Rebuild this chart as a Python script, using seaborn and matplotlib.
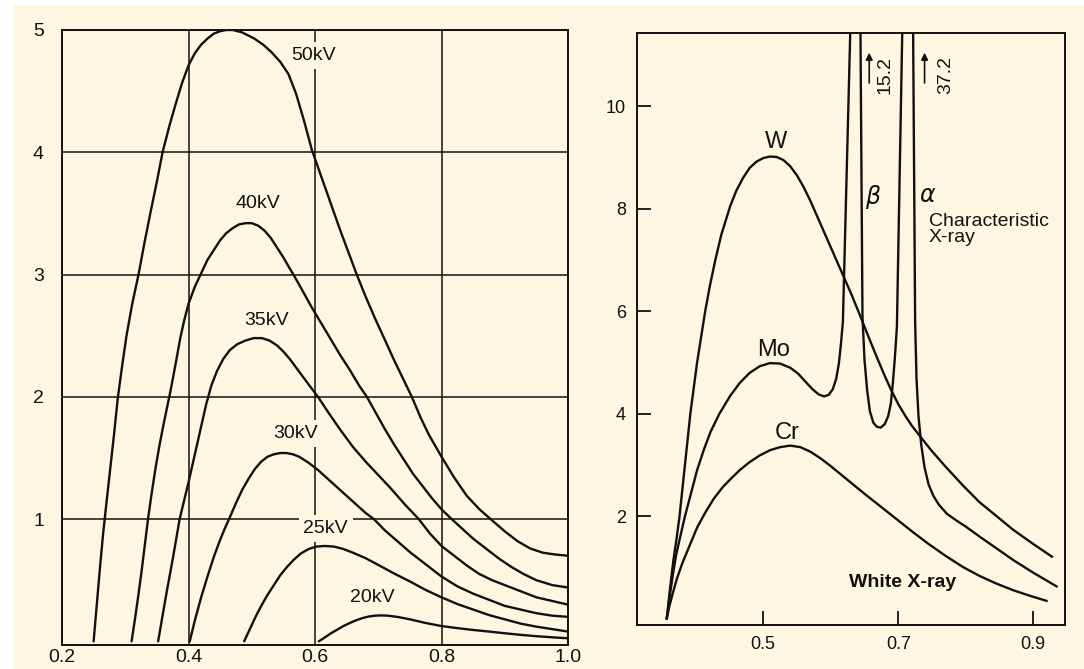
import matplotlib
matplotlib.use("Agg")
import matplotlib.pyplot as plt
import seaborn as sns
import pandas as pd
from matplotlib.patches import Rectangle

# ---------------- data: left panel (tube voltage series) ----------------
kv50_x = [0.250, 0.255, 0.260, 0.265, 0.270, 0.276, 0.282, 0.288, 0.295, 0.302, 0.311, 0.321, 0.330, 0.340,
          0.350, 0.359, 0.370, 0.380, 0.390, 0.400, 0.410, 0.420, 0.430, 0.440, 0.450, 0.460, 0.470, 0.485,
          0.504, 0.518, 0.531, 0.545, 0.558, 0.570, 0.582, 0.595, 0.610, 0.625, 0.640, 0.653, 0.666, 0.680,
          0.695, 0.711, 0.725, 0.740, 0.753, 0.767, 0.780, 0.800, 0.820, 0.840, 0.860, 0.882, 0.900, 0.920,
          0.940, 0.960, 0.980, 1.000]
kv50_y = [0.00, 0.30, 0.60, 0.88, 1.12, 1.40, 1.68, 1.98, 2.25, 2.50, 2.76, 3.00, 3.25, 3.51,
          3.76, 4.00, 4.22, 4.40, 4.57, 4.71, 4.81, 4.88, 4.93, 4.97, 4.99, 5.00, 5.00, 4.98,
          4.93, 4.88, 4.82, 4.74, 4.64, 4.48, 4.27, 4.02, 3.80, 3.58, 3.36, 3.18, 3.00, 2.82,
          2.64, 2.46, 2.30, 2.14, 2.00, 1.83, 1.69, 1.51, 1.34, 1.19, 1.08, 0.98, 0.90, 0.82,
          0.76, 0.725, 0.71, 0.70]

kv40_x = [0.310, 0.315, 0.320, 0.326, 0.331, 0.336, 0.342, 0.348, 0.354, 0.360, 0.366, 0.372, 0.380, 0.387,
          0.393, 0.400, 0.410, 0.420, 0.430, 0.440, 0.450, 0.460, 0.470, 0.480, 0.490, 0.500, 0.510, 0.520,
          0.530, 0.540, 0.550, 0.560, 0.567, 0.580, 0.595, 0.610, 0.625, 0.640, 0.655, 0.670, 0.682, 0.696,
          0.710, 0.725, 0.740, 0.755, 0.770, 0.785, 0.800, 0.816, 0.833, 0.850, 0.870, 0.890, 0.910, 0.930,
          0.950, 0.975, 1.000]
kv40_y = [0.00, 0.17, 0.35, 0.58, 0.79, 1.00, 1.22, 1.42, 1.60, 1.76, 1.91, 2.06, 2.28, 2.48,
          2.62, 2.76, 2.90, 3.01, 3.12, 3.20, 3.28, 3.34, 3.38, 3.41, 3.42, 3.42, 3.40, 3.36,
          3.30, 3.22, 3.14, 3.05, 2.99, 2.87, 2.73, 2.60, 2.47, 2.34, 2.22, 2.09, 2.00, 1.87,
          1.74, 1.61, 1.49, 1.37, 1.27, 1.17, 1.08, 1.00, 0.92, 0.84, 0.76, 0.68, 0.61, 0.55,
          0.50, 0.46, 0.44]

kv35_x = [0.352, 0.358, 0.364, 0.370, 0.376, 0.381, 0.386, 0.393, 0.400, 0.407, 0.414, 0.421, 0.428, 0.436,
          0.445, 0.455, 0.465, 0.477, 0.490, 0.503, 0.516, 0.528, 0.540, 0.550, 0.560, 0.570, 0.580, 0.593,
          0.606, 0.620, 0.640, 0.660, 0.680, 0.700, 0.720, 0.742, 0.764, 0.782, 0.800, 0.820, 0.840, 0.860,
          0.880, 0.900, 0.925, 0.950, 0.975, 1.000]
kv35_y = [0.00, 0.18, 0.36, 0.53, 0.70, 0.85, 1.00, 1.15, 1.30, 1.46, 1.62, 1.78, 1.94, 2.09,
          2.21, 2.31, 2.38, 2.43, 2.46, 2.48, 2.48, 2.46, 2.42, 2.37, 2.31, 2.24, 2.17, 2.08,
          1.99, 1.88, 1.73, 1.59, 1.47, 1.36, 1.25, 1.12, 1.00, 0.88, 0.78, 0.70, 0.62, 0.55,
          0.50, 0.46, 0.41, 0.36, 0.33, 0.30]

kv30_x = [0.402, 0.410, 0.420, 0.430, 0.440, 0.450, 0.458, 0.465, 0.475, 0.485, 0.495, 0.505, 0.515, 0.525,
          0.535, 0.545, 0.555, 0.565, 0.575, 0.590, 0.605, 0.620, 0.635, 0.650, 0.665, 0.680, 0.693, 0.710,
          0.730, 0.750, 0.770, 0.800, 0.825, 0.850, 0.875, 0.900, 0.925, 0.950, 0.975, 1.000]
kv30_y = [0.00, 0.17, 0.36, 0.53, 0.69, 0.83, 0.93, 1.01, 1.13, 1.24, 1.33, 1.41, 1.47, 1.51,
          1.53, 1.54, 1.54, 1.53, 1.51, 1.46, 1.40, 1.33, 1.26, 1.19, 1.12, 1.05, 1.00, 0.91,
          0.82, 0.73, 0.65, 0.53, 0.45, 0.39, 0.34, 0.29, 0.26, 0.23, 0.21, 0.20]

kv25_x = [0.488, 0.497, 0.506, 0.515, 0.525, 0.535, 0.545, 0.556, 0.567, 0.578, 0.590, 0.602, 0.615, 0.630,
          0.645, 0.660, 0.680, 0.700, 0.725, 0.750, 0.775, 0.800, 0.825, 0.850, 0.875, 0.900, 0.925, 0.950,
          0.975, 1.000]
kv25_y = [0.00, 0.10, 0.20, 0.29, 0.38, 0.46, 0.54, 0.61, 0.67, 0.72, 0.755, 0.775, 0.78, 0.775,
          0.755, 0.725, 0.68, 0.625, 0.555, 0.49, 0.42, 0.36, 0.305, 0.26, 0.215, 0.18, 0.145, 0.12,
          0.10, 0.08]

kv20_x = [0.606, 0.615, 0.625, 0.635, 0.645, 0.655, 0.665, 0.675, 0.685, 0.695, 0.705, 0.715, 0.730, 0.750,
          0.775, 0.800, 0.825, 0.850, 0.875, 0.900, 0.925, 0.950, 0.975, 1.000]
kv20_y = [0.00, 0.03, 0.065, 0.095, 0.125, 0.15, 0.172, 0.19, 0.203, 0.21, 0.212, 0.21, 0.20, 0.18,
          0.15, 0.125, 0.108, 0.093, 0.08, 0.066, 0.053, 0.042, 0.033, 0.025]

kv_names = ["50kV", "40kV", "35kV", "30kV", "25kV", "20kV"]
kv_label_x = [0.597, 0.510, 0.524, 0.570, 0.617, 0.691]
kv_label_y = [4.79, 3.58, 2.62, 1.70, 0.92, 0.36]

left_xticks = [0.2, 0.4, 0.6, 0.8, 1.0]
left_xticklabels = ["0.2", "0.4", "0.6", "0.8", "1.0"]
left_yticks = [1, 2, 3, 4, 5]

# ---------------- data: right panel (target elements) ----------------
w_x = [0.357, 0.362, 0.367, 0.372, 0.376, 0.380, 0.384, 0.388, 0.392, 0.397, 0.402, 0.408, 0.414, 0.421,
       0.429, 0.438, 0.451, 0.460, 0.470, 0.480, 0.490, 0.500, 0.510, 0.520, 0.530, 0.540, 0.550, 0.560,
       0.570, 0.580, 0.590, 0.600, 0.610, 0.620, 0.630, 0.640, 0.650, 0.660, 0.670, 0.680, 0.690, 0.700,
       0.710, 0.720, 0.733, 0.750, 0.770, 0.796, 0.820, 0.846, 0.870, 0.900, 0.928]
w_y = [0.00, 0.60, 1.15, 1.60, 2.00, 2.50, 3.00, 3.50, 4.00, 4.50, 5.00, 5.50, 6.00, 6.50,
       7.00, 7.50, 8.05, 8.35, 8.60, 8.80, 8.92, 8.99, 9.02, 9.01, 8.95, 8.83, 8.65, 8.42,
       8.15, 7.85, 7.55, 7.25, 6.95, 6.65, 6.35, 6.03, 5.70, 5.37, 5.05, 4.74, 4.45, 4.19,
       3.97, 3.77, 3.55, 3.27, 2.97, 2.60, 2.28, 2.00, 1.74, 1.46, 1.21]

mo_x = [0.357, 0.361, 0.366, 0.371, 0.377, 0.384, 0.392, 0.402, 0.412, 0.422, 0.435, 0.451, 0.465, 0.480,
        0.495, 0.510, 0.525, 0.540, 0.552, 0.563, 0.573, 0.582, 0.590, 0.597, 0.603, 0.608, 0.612, 0.615,
        0.618, 0.629, 0.633, 0.644, 0.647, 0.650, 0.654, 0.658, 0.663, 0.668, 0.674, 0.680, 0.685, 0.689,
        0.692, 0.695, 0.698, 0.706, 0.712, 0.722, 0.725, 0.727, 0.730, 0.734, 0.739, 0.745, 0.752, 0.760,
        0.772, 0.786, 0.800, 0.821, 0.845, 0.870, 0.900, 0.935]
mo_y = [0.00, 0.40, 0.85, 1.25, 1.60, 2.00, 2.40, 2.90, 3.30, 3.65, 4.00, 4.35, 4.60, 4.80,
        4.93, 4.99, 4.98, 4.90, 4.78, 4.62, 4.48, 4.38, 4.34, 4.37, 4.48, 4.68, 4.98, 5.35,
        5.80, 11.50, 15.20, 11.50, 5.90, 5.05, 4.45, 4.05, 3.83, 3.75, 3.73, 3.80, 3.95, 4.20,
        4.60, 5.10, 5.70, 11.50, 37.20, 11.50, 5.80, 4.70, 3.95, 3.40, 2.95, 2.62, 2.40, 2.23,
        2.05, 1.92, 1.80, 1.60, 1.38, 1.15, 0.90, 0.63]

cr_x = [0.357, 0.361, 0.366, 0.372, 0.380, 0.390, 0.402, 0.414, 0.427, 0.440, 0.451, 0.465, 0.480, 0.495,
        0.510, 0.525, 0.540, 0.555, 0.570, 0.585, 0.600, 0.624, 0.650, 0.675, 0.698, 0.720, 0.745, 0.770,
        0.796, 0.820, 0.845, 0.870, 0.895, 0.920]
cr_y = [0.00, 0.25, 0.50, 0.78, 1.08, 1.40, 1.78, 2.07, 2.35, 2.57, 2.72, 2.90, 3.06, 3.19,
        3.29, 3.35, 3.38, 3.35, 3.26, 3.13, 2.98, 2.72, 2.44, 2.18, 1.94, 1.71, 1.46, 1.23,
        1.01, 0.84, 0.69, 0.56, 0.45, 0.35]

el_names = ["W", "Mo", "Cr"]
el_label_x = [0.519, 0.515, 0.535]
el_label_y = [9.30, 5.25, 3.63]

peak_names = ["15.2", "37.2"]
peak_arrow_x = [0.657, 0.739]
peak_text_x = [0.681, 0.770]

right_xticks = [0.5, 0.7, 0.9]
right_xticklabels = ["0.5", "0.7", "0.9"]
right_yticks = [2, 4, 6, 8, 10]

# ---------------- styling ----------------
sns.set_style("white")
plt.rcParams["font.family"] = ["Liberation Sans", "DejaVu Sans"]
CREAM = "#FDF6E1"
INK = "#111111"
LW = 1.7

fig = plt.figure(figsize=(10.84, 6.69), dpi=100, facecolor="white")
fig.patches.append(Rectangle((14 / 1084, 0), 1, 1 - 5 / 669, transform=fig.transFigure,
                             facecolor=CREAM, edgecolor="none", zorder=-10))

# ---------------- left panel ----------------
axL = fig.add_axes([62 / 1084, 1 - 645 / 669, 506 / 1084, 615 / 669])
axL.set_facecolor(CREAM)
left_series = [(kv50_x, kv50_y), (kv40_x, kv40_y), (kv35_x, kv35_y),
               (kv30_x, kv30_y), (kv25_x, kv25_y), (kv20_x, kv20_y)]
for name, (xs, ys) in zip(kv_names, left_series):
    df = pd.DataFrame({"wavelength": xs, "intensity": ys})
    sns.lineplot(data=df, x="wavelength", y="intensity", ax=axL, color=INK, lw=LW,
                 estimator=None, sort=False, legend=False, zorder=3,
                 solid_joinstyle="round", solid_capstyle="round")
for name, tx, ty in zip(kv_names, kv_label_x, kv_label_y):
    axL.text(tx, ty, name, fontsize=14, ha="center", va="center", color=INK, zorder=2.5,
             bbox=dict(boxstyle="square,pad=0.25", facecolor=CREAM, edgecolor="none"))
axL.set_xlim(0.2, 1.0)
axL.set_ylim(-0.03, 5.0)
axL.set_xticks(left_xticks)
axL.set_xticklabels(left_xticklabels)
axL.set_yticks(left_yticks)
axL.grid(True, color=INK, lw=1.1, zorder=1)
axL.tick_params(axis="y", length=0, labelsize=14, colors=INK, pad=13)
axL.tick_params(axis="x", length=0, labelsize=14, colors=INK, pad=3)
axL.set_xlabel("")
axL.set_ylabel("")
for s in axL.spines.values():
    s.set_color(INK)
    s.set_linewidth(1.4)
    s.set_visible(True)
    s.set_zorder(4)

# ---------------- right panel ----------------
axR = fig.add_axes([637 / 1084, 1 - 625 / 669, 428 / 1084, 592 / 669])
axR.set_facecolor(CREAM)
for name, (xs, ys) in zip(el_names, [(w_x, w_y), (mo_x, mo_y), (cr_x, cr_y)]):
    df = pd.DataFrame({"wavelength": xs, "intensity": ys})
    sns.lineplot(data=df, x="wavelength", y="intensity", ax=axR, color=INK, lw=LW,
                 estimator=None, sort=False, legend=False,
                 solid_joinstyle="round", solid_capstyle="round")
for name, tx, ty in zip(el_names, el_label_x, el_label_y):
    axR.text(tx, ty, name, fontsize=17, ha="center", va="center", color=INK)
axR.text(0.663, 8.23, r"$\beta$", fontsize=17, ha="center", va="center", color=INK)
axR.text(0.743, 8.25, r"$\alpha$", fontsize=17, ha="center", va="center", color=INK)
axR.text(0.745, 7.59, "Characteristic\nX-ray", fontsize=14, ha="left", va="center",
         color=INK, linespacing=0.95)
axR.text(0.706, 0.70, "White X-ray", fontsize=14, ha="center", va="center",
         color=INK, fontweight="bold")
for name, axx, tx in zip(peak_names, peak_arrow_x, peak_text_x):
    axR.annotate("", xy=(axx, 11.10), xytext=(axx, 10.40),
                 arrowprops=dict(arrowstyle="-|>", color=INK, lw=1.2, mutation_scale=10))
    axR.text(tx, 10.62, name, fontsize=14, rotation=90, ha="center", va="center", color=INK)
axR.set_xlim(0.313, 0.947)
axR.set_ylim(-0.12, 11.43)
axR.set_xticks(right_xticks)
axR.set_xticklabels(right_xticklabels)
axR.set_yticks(right_yticks)
axR.tick_params(axis="both", direction="in", length=10, width=1.3, labelsize=13,
                colors=INK, pad=8, left=True, bottom=True)
axR.set_xlabel("")
axR.set_ylabel("")
for s in axR.spines.values():
    s.set_color(INK)
    s.set_linewidth(1.4)
    s.set_visible(True)

fig.savefig("out.png", dpi=100, facecolor=fig.get_facecolor())
